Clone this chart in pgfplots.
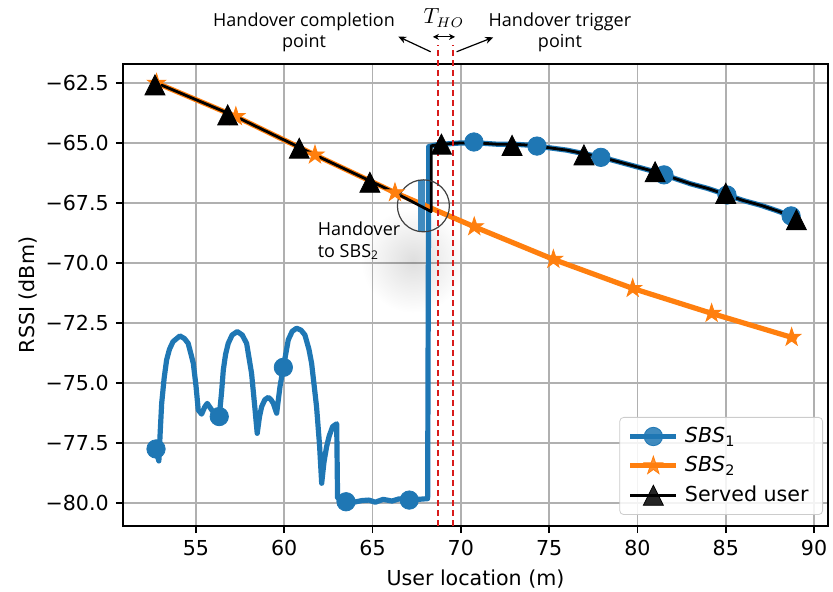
\documentclass[border=0pt]{standalone}
\usepackage{fontspec}
\setmainfont{DejaVu Sans}
\newfontfamily\annfont{Open Sans}
\usepackage{pgfplots}
\pgfplotsset{compat=1.18}
\usetikzlibrary{arrows.meta,fadings}
\definecolor{mblue}{HTML}{1F77B4}
\definecolor{morange}{HTML}{FF7F0E}
\definecolor{mgrid}{HTML}{B0B0B0}
\definecolor{mred}{HTML}{D81B1B}
\tikzfading[name=softblob, inner color=transparent!0, outer color=transparent!100]
\pgfdeclareplotmark{mtri}{%
  \pgfpathmoveto{\pgfpoint{0pt}{\pgfplotmarksize}}%
  \pgfpathlineto{\pgfpoint{-\pgfplotmarksize}{-\pgfplotmarksize}}%
  \pgfpathlineto{\pgfpoint{\pgfplotmarksize}{-\pgfplotmarksize}}%
  \pgfpathclose\pgfusepathqfillstroke}
\pgfdeclareplotmark{mstar}{%
  \pgfpathmoveto{\pgfpointpolar{90}{\pgfplotmarksize}}%
  \pgfpathlineto{\pgfpointpolar{126}{0.382*\pgfplotmarksize}}%
  \pgfpathlineto{\pgfpointpolar{162}{\pgfplotmarksize}}%
  \pgfpathlineto{\pgfpointpolar{198}{0.382*\pgfplotmarksize}}%
  \pgfpathlineto{\pgfpointpolar{234}{\pgfplotmarksize}}%
  \pgfpathlineto{\pgfpointpolar{270}{0.382*\pgfplotmarksize}}%
  \pgfpathlineto{\pgfpointpolar{306}{\pgfplotmarksize}}%
  \pgfpathlineto{\pgfpointpolar{342}{0.382*\pgfplotmarksize}}%
  \pgfpathlineto{\pgfpointpolar{18}{\pgfplotmarksize}}%
  \pgfpathlineto{\pgfpointpolar{54}{0.382*\pgfplotmarksize}}%
  \pgfpathclose\pgfusepathqfillstroke}
\begin{document}
\begin{tikzpicture}
\useasboundingbox (-61.5pt,-33pt) rectangle (355pt,263pt);
\begin{axis}[
  scale only axis, width=352.5pt, height=231pt,
  xmin=50.87, xmax=90.79, ymin=-80.96, ymax=-61.71,
  clip=false,
  font=\fontsize{10.3}{12}\selectfont,
  xtick={55,60,65,70,75,80,85,90},
  xticklabels={55,60,65,70,75,80,85,90},
  ytick={-80,-77.5,-75,-72.5,-70,-67.5,-65,-62.5},
  yticklabels={−80.0,−77.5,−75.0,−72.5,−70.0,−67.5,−65.0,−62.5},
  xtick pos=bottom, ytick pos=left,
  tick align=outside, major tick length=3.6pt,
  every tick/.style={black, line width=0.8pt},
  axis line style={line width=0.8pt},
  grid=major, major grid style={mgrid, line width=0.8pt},
  xlabel={User location (m)}, ylabel={RSSI (dBm)}, ylabel shift=-2.5pt,
  legend style={at={(1,0)}, anchor=south east, xshift=-2.5pt, yshift=5.5pt,
    draw=black!20, rounded corners=2pt, fill=white, fill opacity=0.85, text opacity=1,
    font=\fontsize{10.3}{12}\selectfont, row sep=1.5pt, inner xsep=4pt, inner ysep=3pt,
    nodes={inner ysep=2pt, inner xsep=3pt}},
  legend cell align=left,
  legend image code/.code={\draw[mark repeat=2,mark phase=2] plot coordinates {(0pt,0pt) (11.5pt,0pt) (23pt,0pt)};},
]
% soft shadow near the handover text
\fill[black, opacity=0.13, path fading=softblob] (axis cs:67.3,-69.9) circle (26pt);

% SBS1
\addplot[mblue, line width=2.6pt, line join=round, forget plot] coordinates {
(52.70,-77.75) (52.90,-78.25) (52.98,-77.0) (53.06,-75.85) (53.20,-74.8) (53.34,-74.04)
(53.50,-73.6) (53.70,-73.28) (54.09,-73.04) (54.35,-73.15) (54.56,-73.35) (54.72,-73.8)
(54.85,-74.18) (55.00,-75.1) (55.13,-76.12) (55.32,-76.3) (55.50,-76.0) (55.64,-75.85)
(55.89,-76.12) (56.10,-76.3) (56.32,-76.4) (56.45,-75.4) (56.55,-74.46) (56.68,-73.8)
(56.83,-73.35) (57.05,-73.0) (57.34,-72.86) (57.62,-73.0) (57.87,-73.35) (58.15,-74.6)
(58.32,-75.9) (58.47,-77.1) (58.60,-76.4) (58.72,-75.99) (58.90,-75.7) (59.10,-75.6)
(59.25,-75.7) (59.38,-75.85) (59.57,-76.26) (59.76,-75.15) (59.95,-74.35) (60.23,-73.2)
(60.45,-72.85) (60.70,-72.72) (60.95,-72.8) (61.17,-73.0) (61.40,-73.6) (61.55,-74.18)
(61.83,-75.99) (62.00,-77.6) (62.12,-79.18) (62.25,-78.3) (62.40,-77.65) (62.55,-77.2)
(62.74,-76.82) (62.97,-76.70) (63.02,-79.80) (63.50,-79.95) (64.00,-79.96) (64.40,-79.90)
(64.80,-79.88) (65.15,-79.97) (65.60,-79.85) (66.10,-79.92) (66.50,-79.83) (67.08,-79.88)
(67.60,-79.85) (68.12,-79.82) (68.18,-65.15) (68.60,-65.08) (69.00,-65.05) (70.00,-65.00)
(71.00,-65.00) (72.00,-65.05) (73.00,-65.05) (74.00,-65.10) (75.00,-65.20) (76.00,-65.30)
(77.00,-65.45) (78.00,-65.60) (79.00,-65.80) (80.00,-66.00) (81.00,-66.20) (82.00,-66.45)
(83.00,-66.70) (84.00,-66.90) (85.00,-67.15) (86.00,-67.40) (87.00,-67.60) (88.00,-67.85)
(89.00,-68.15)};
\addplot[only marks, mark=*, mark size=4.6pt, mblue, forget plot] coordinates {
(52.74,-77.75) (56.32,-76.4) (59.95,-74.35) (63.50,-79.95) (67.08,-79.88) (70.74,-64.96)
(74.31,-65.13) (77.93,-65.6) (81.50,-66.33) (85.07,-67.17) (88.70,-68.04)};

% SBS2
\addplot[morange, line width=2.6pt, line join=round, forget plot] coordinates {
(52.70,-62.48) (57.26,-63.90) (61.74,-65.50) (66.27,-67.07) (70.76,-68.49) (75.24,-69.85)
(79.73,-71.06) (84.20,-72.10) (88.73,-73.10) (89.00,-73.20)};
\addplot[only marks, mark=mstar, mark size=4.8pt, morange, mark options={fill=morange, line width=0.4pt}, forget plot] coordinates {
(52.77,-62.51) (57.26,-63.90) (61.74,-65.50) (66.27,-67.07) (70.76,-68.49) (75.24,-69.85)
(79.73,-71.06) (84.20,-72.10) (88.73,-73.10)};

% magnified piece inside the circle
\draw[mblue!85, line width=3.5pt] (axis cs:67.80,-66.55) -- (axis cs:67.80,-68.65);

% Served user
\addplot[black, line width=1.4pt, line join=round, forget plot] coordinates {
(52.70,-62.48) (57.26,-63.90) (61.74,-65.50) (66.27,-67.07) (68.32,-67.86) (68.32,-65.12)
(68.90,-65.05) (70.00,-65.00) (71.00,-65.00) (72.00,-65.05) (73.00,-65.05) (74.00,-65.10)
(75.00,-65.20) (76.00,-65.30) (77.00,-65.45) (78.00,-65.60) (79.00,-65.80) (80.00,-66.00)
(81.00,-66.20) (82.00,-66.45) (83.00,-66.70) (84.00,-66.90) (85.00,-67.15) (86.00,-67.40)
(87.00,-67.60) (88.00,-67.85) (89.00,-68.15)};
\addplot[only marks, mark=mtri, mark size=5pt, black, mark options={fill=black, line width=0.4pt}, forget plot] coordinates {
(52.68,-62.58) (56.80,-63.83) (60.85,-65.22) (64.85,-66.64) (68.90,-65.05) (72.90,-65.10)
(76.97,-65.50) (81.00,-66.20) (85.00,-67.10) (89.00,-68.20)};

% legend
\addlegendimage{mblue, line width=2.6pt, mark=*, mark size=4.6pt, mark options={line width=0.4pt}}
\addlegendentry{\textit{SBS}\textsubscript{1}}
\addlegendimage{morange, line width=2.6pt, mark=mstar, mark size=4.8pt, mark options={fill=morange, line width=0.4pt}}
\addlegendentry{\textit{SBS}\textsubscript{2}}
\addlegendimage{black, line width=1.4pt, mark=mtri, mark size=5pt, mark options={fill=black, line width=0.4pt}}
\addlegendentry{Served user}

% annotations
\draw[mred, line width=1pt, dash pattern=on 3pt off 2pt] (axis cs:68.68,-80.96) -- (axis cs:68.68,-60.92);
\draw[mred, line width=1pt, dash pattern=on 3pt off 2pt] (axis cs:69.58,-80.96) -- (axis cs:69.58,-60.92);
\draw[black!75, line width=0.6pt] (axis cs:67.88,-67.62) circle (13pt);
\node[anchor=north west, align=left, inner sep=0pt, font=\annfont\fontsize{9}{11}\selectfont]
  at (axis cs:61.88,-68.27) {Handover\\to SBS\textsubscript{2}};
\node[align=center, inner sep=0pt, font=\annfont\fontsize{9}{10.5}\selectfont]
  at (axis cs:61.12,-60.38) {Handover completion\\point};
\node[align=center, inner sep=0pt, font=\annfont\fontsize{9}{10.5}\selectfont]
  at (axis cs:75.61,-60.38) {Handover trigger\\point};
\node[inner sep=0pt, font=\fontsize{10.5}{13}\selectfont] at (axis cs:69.04,-59.79) {$T_{HO}$};
\draw[{Stealth[length=3pt,width=3pt]}-{Stealth[length=3pt,width=3pt]}, line width=0.6pt] (axis cs:68.42,-60.58) -- (axis cs:69.67,-60.58);
\draw[-{Stealth[length=4pt,width=3.5pt]}, line width=0.6pt] (axis cs:68.29,-61.2) -- (axis cs:66.46,-60.57);
\draw[-{Stealth[length=4pt,width=3.5pt]}, line width=0.6pt] (axis cs:69.76,-61.2) -- (axis cs:71.83,-60.6);
\end{axis}
\end{tikzpicture}
\end{document}
